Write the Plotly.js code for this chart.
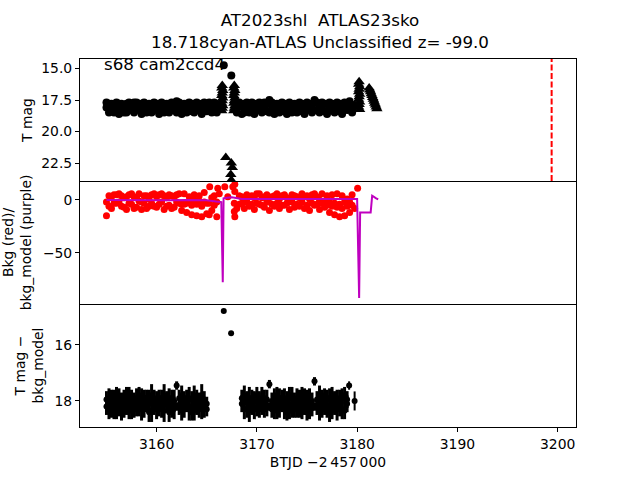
<!DOCTYPE html>
<html>
<head>
<meta charset="utf-8">
<script src="https://cdn.plot.ly/plotly-3.0.1.min.js"></script>
<style>html,body{margin:0;padding:0;background:#fff;}#plot{width:640px;height:480px;}</style>
</head>
<body>
<div id="plot"></div>
<script>
// ---- data ----
const tA = [3155.0,3155.25,3155.5,3155.75,3156.0,3156.25,3156.5,3156.75,3157.0,3157.25,3157.5,3157.75,3158.0,3158.25,3158.5,3158.75,3159.0,3159.25,3159.5,3159.75,3160.0,3160.25,3160.5,3160.75,3161.0,3161.25,3161.5,3161.75,3162.0,3162.25,3162.5,3162.75,3163.0,3163.25,3163.5,3163.75,3164.0,3164.25,3164.5,3164.75,3165.0];
const tB = [3168.5,3168.75,3169.0,3169.25,3169.5,3169.75,3170.0,3170.25,3170.5,3170.75,3171.0,3171.25,3171.5,3171.75,3172.0,3172.25,3172.5,3172.75,3173.0,3173.25,3173.5,3173.75,3174.0,3174.25,3174.5,3174.75,3175.0,3175.25,3175.5,3175.75,3176.0,3176.25,3176.5,3176.75,3177.0,3177.25,3177.5,3177.75,3178.0,3178.25,3178.5,3178.75,3179.0];

// panel 1: T mag detections (circles), two exposures per time
const magA = [18.1,17.8,18.3,17.9,18.2,17.8,18.3,18.0,17.8,18.2,18.3,17.7,18.1,18.3,17.8,18.2,17.9,18.3,17.8,18.1,18.3,17.8,18.2,17.9,18.3,17.8,18.0,18.3,17.6,18.2,17.9,18.3,17.8,18.1,18.4,17.8,18.2,18.3,17.8,18.1,18.4];
const magA2 = [17.7,18.5,17.8,18.5,17.7,18.6,17.8,18.5,18.5,17.7,17.8,18.5,17.7,17.8,18.6,17.7,18.5,17.8,18.5,17.7,17.8,18.6,17.7,18.5,17.8,18.5,17.7,17.8,18.5,17.7,18.6,17.8,18.5,17.7,17.8,18.5,17.7,17.8,18.6,17.7,17.8];
const magB = [18.0,17.8,18.3,17.9,18.2,17.8,18.3,18.1,17.8,18.2,18.4,17.5,18.2,17.9,18.3,17.8,18.1,18.4,17.8,18.2,17.9,18.3,17.8,18.2,18.4,17.9,18.1,18.3,17.8,17.5,18.3,17.9,18.2,18.4,17.8,18.1,18.3,17.9,18.2,18.4,17.8,18.1,18.3];
const magB2 = [18.6,18.5,17.7,18.5,17.7,18.6,17.8,17.7,18.5,17.7,17.8,18.5,17.7,18.6,17.8,18.5,17.7,17.8,18.6,17.7,18.5,17.8,18.5,17.7,17.8,18.6,17.7,17.8,18.5,18.3,17.7,18.5,17.7,17.8,18.6,17.7,17.8,18.5,17.7,17.8,18.6,17.7,17.8];
const tC = [3165.25,3165.5,3165.75,3166.0,3166.25,3166.7,3167.45,3168.0,3168.25,3179.25,3179.5,3179.75,3165.25,3165.5,3165.75,3166.0,3168.0,3168.25,3179.5];
const magC = [18.2,17.9,18.3,17.8,18.1,14.75,15.55,18.2,17.9,17.6,18.2,17.9,17.7,18.5,17.7,18.5,18.5,17.7,18.5];
// panel 1: upper limits (triangles)
const tU = [3166.55,3166.5,3166.6,3166.55,3166.5,3166.6,3166.55,3166.5,3166.6,3166.55,3166.5,
            3167.75,3167.7,3167.8,3167.75,3167.7,3167.8,3167.75,3167.7,3167.8,3167.75,3167.7,
            3166.9,3167.45,3167.55,3167.4,3167.45,
            3180.2,3180.15,3180.25,3180.2,3180.15,3180.25,3180.2,3180.15,3180.25,3180.2,3180.15,3180.25,
            3181.2,3181.27,3181.34,3181.41,3181.48,3181.55,3181.62,3181.69,3181.76,3181.83,3181.9,3181.97];
const magU = [16.35,16.55,16.75,16.95,17.15,17.35,17.55,17.75,17.95,18.15,18.35,
              16.35,16.55,16.75,16.95,17.15,17.35,17.55,17.75,17.95,18.15,18.35,
              22.05,22.5,22.85,23.4,23.85,
              16.05,16.25,16.45,16.65,16.85,17.05,17.25,17.45,17.65,17.85,18.05,18.25,
              16.55,16.7,16.85,17.0,17.15,17.3,17.45,17.6,17.75,17.9,18.05,18.2];
const tAlert = [3199.4];

// panel 2: background (red) and background model (purple)
const bkgA = [-15,4,-8,5,-3,6,-6,2,-9,5,-4,3,-7,6,-2,4,-8,1,5,-6,3,-4,6,-9,2,-5,4,-7,5,-3,-10,6,-12,3,-14,5,-15,4,-16,7,-13];
const bkgA2 = [-2,-6,3,-3,5,-2,4,-7,3,-3,6,-8,2,-1,-9,-3,4,-6,-3,6,-7,5,-2,4,-6,5,-8,3,-2,6,-4,-4,-3,-2,-5,0,-4,-1,-6,-2,-3];
const bkgB = [3,-8,5,-6,4,-9,6,-4,2,-7,5,-10,3,-6,6,-8,4,-5,2,-9,5,-7,3,-6,6,-8,4,-10,5,-5,3,-9,6,-7,4,-12,5,-14,6,-16,4,-15,1];
const bkgB2 = [-3,1,-2,3,-4,2,-3,6,-5,3,-2,2,-4,4,-3,1,-5,5,-3,0,-2,4,-4,2,-2,3,-5,1,-3,6,-4,0,-3,-1,-5,-2,-6,-3,-7,-4,-8,-2,-6];
const tR = [3165.25,3165.3,3165.5,3165.75,3166.0,3166.1,3166.25,3166.8,3167.1,3167.6,3167.8,3167.8,3167.75,3167.75,3167.8,3168.0,3168.25,3179.25,3179.5,3179.75,3180.05,3165.25,3165.5,3165.75,3166.0,3168.25,3179.25,3179.5];
const bkgR = [-14,12.5,-10,4,-16,11,6,12.5,3,12.5,15,8,-3,-11,-16,-8,4,-12,5,-8,11,-3,2,-5,-2,-4,-2,-5];
const tM = [3155.0,3157.0,3159.0,3161.0,3163.0,3165.0,3165.95,3166.45,3166.6,3166.68,3167.0,3167.5,3168.5,3170.0,3172.0,3174.0,3176.0,3178.0,3180.0,3180.2,3180.3,3181.35,3181.5,3181.9,3182.1];
const bkgM = [0,-0.3,0,-0.2,0,-0.3,-1.5,-2,-78,1.5,2,2.5,1,1,0.8,1,0.7,1,0.8,-93,-12,-12,4,1.5,0.5];

// panel 3: T mag - bkg_model with errors, two exposures per time
const diffA = [18.2,17.9,18.3,18.0,17.8,18.2,18.4,17.9,18.1,17.8,18.3,18.0,18.2,17.8,18.3,17.9,18.1,18.4,17.8,18.2,18.0,17.9,18.3,17.8,18.1,18.4,17.9,18.0,17.45,18.2,17.8,18.3,18.1,17.9,18.4,17.8,18.2,18.0,17.8,18.3,18.1];
const diffA2 = [17.95,18.3,17.9,18.25,18.35,17.9,18.0,18.3,17.9,18.35,17.95,18.3,17.9,18.25,17.95,18.3,17.9,17.95,18.35,17.9,18.3,18.25,17.9,18.35,17.95,17.9,18.3,18.25,18.2,17.9,18.35,17.95,17.9,18.3,17.95,18.35,17.9,18.3,18.25,17.95,18.3];
const errA = [0.3,0.35,0.3,0.4,0.3,0.35,0.3,0.3,0.4,0.3,0.35,0.3,0.35,0.3,0.4,0.3,0.3,0.35,0.4,0.3,0.35,0.3,0.3,0.4,0.3,0.35,0.3,0.4,0.15,0.3,0.35,0.3,0.3,0.4,0.3,0.35,0.3,0.3,0.4,0.3,0.25];
const diffB = [18.1,17.8,18.3,17.9,18.2,18.0,17.8,18.3,18.1,17.9,18.2,17.4,18.0,18.3,17.8,18.2,18.1,17.9,18.4,17.8,18.2,18.0,17.9,18.3,17.8,18.1,18.4,17.9,18.0,17.3,18.2,17.8,18.3,18.1,17.9,18.4,17.8,18.2,18.0,17.9,18.3,17.8,18.1];
const diffB2 = [17.9,18.3,17.95,18.35,17.9,18.3,18.25,17.95,17.9,18.3,17.95,18.2,18.3,17.9,18.35,17.95,17.9,18.3,17.95,18.35,17.9,18.3,18.25,17.9,18.35,17.95,17.9,18.3,18.25,18.2,17.95,18.35,17.9,17.95,18.3,17.9,18.35,17.95,18.3,18.25,17.9,18.35,17.95];
const errB = [0.3,0.35,0.3,0.4,0.3,0.35,0.3,0.3,0.4,0.3,0.35,0.15,0.3,0.35,0.3,0.4,0.3,0.35,0.3,0.3,0.4,0.3,0.35,0.3,0.3,0.4,0.3,0.35,0.3,0.15,0.3,0.35,0.3,0.4,0.3,0.35,0.3,0.3,0.4,0.3,0.35,0.3,0.3];
const tD = [3166.7,3167.43,3179.2,3179.75];
const diffD = [14.79,15.58,17.45,18.0];
const errD = [0.05,0.05,0.15,0.34];

// tick labels
const xTicks = [3160,3170,3180,3190,3200];
const y1Ticks = [15.0,17.5,20.0,22.5];
const y1Text = ['15.0','17.5','20.0','22.5'];
const y2Ticks = [0,-50];
const y3Ticks = [16,18];

// ---- figure ----
const FONT = 'DejaVu Sans, Liberation Sans, sans-serif';
const black = '#000000', red = '#ff0000', purple = '#bf00bf';

const traces = [
  {x: tA.concat(tA, tB, tB, tC), y: magA.concat(magA2, magB, magB2, magC), xaxis: 'x3', yaxis: 'y', type: 'scatter', mode: 'markers',
   marker: {symbol: 'circle', size: 8, color: black}},
  {x: tU, y: magU, xaxis: 'x3', yaxis: 'y', type: 'scatter', mode: 'markers',
   marker: {symbol: 'triangle-up', size: 10, color: black}},
  {x: tA.concat(tA, tB, tB, tR), y: bkgA.concat(bkgA2, bkgB, bkgB2, bkgR), xaxis: 'x2', yaxis: 'y2', type: 'scatter', mode: 'markers',
   marker: {symbol: 'circle', size: 7, color: red}},
  {x: tM, y: bkgM, xaxis: 'x2', yaxis: 'y2', type: 'scatter', mode: 'lines',
   line: {color: purple, width: 2}},
  {x: tA.concat(tA, tB, tB), y: diffA.concat(diffA2, diffB, diffB2), xaxis: 'x', yaxis: 'y3', type: 'scatter', mode: 'markers',
   marker: {symbol: 'circle', size: 6, color: black},
   error_y: {type: 'data', array: errA.concat(errA, errB, errB), visible: true, color: black, thickness: 3, width: 0}},
  {x: tD, y: diffD, xaxis: 'x', yaxis: 'y3', type: 'scatter', mode: 'markers',
   marker: {symbol: 'circle', size: 6, color: black},
   error_y: {type: 'data', array: errD, visible: true, color: black, thickness: 2, width: 0}}
];

const xRange = [3152.36, 3201.83];
const axBase = {showgrid: false, zeroline: false, showline: true, mirror: true, linecolor: black, linewidth: 1,
                ticks: 'outside', ticklen: 4, tickwidth: 1, tickcolor: black,
                tickfont: {family: FONT, size: 13.9, color: black}};
const yTitleFont = {family: FONT, size: 13.9, color: black};

const layout = {
  width: 640, height: 480,
  margin: {l: 80, r: 64, t: 59, b: 53},
  paper_bgcolor: '#fff', plot_bgcolor: '#fff',
  showlegend: false,
  font: {family: FONT, color: black},
  title: {text: 'AT2023shl\u00A0\u00A0ATLAS23sko<br>18.718cyan-ATLAS Unclassified z= -99.0',
          font: {family: FONT, size: 16.7, color: black},
          x: 0.5, xref: 'container', xanchor: 'center', y: 0.945, yref: 'container', yanchor: 'top'},
  xaxis: Object.assign({}, axBase, {domain: [0, 1], anchor: 'y3', range: xRange, tickvals: xTicks, mirror: false,
          title: {text: 'BTJD \u22122\u2009457\u2009000', font: {family: FONT, size: 13.9, color: black}, standoff: 6}}),
  xaxis2: Object.assign({}, axBase, {domain: [0, 1], anchor: 'y2', matches: 'x', range: xRange, showticklabels: false, ticks: '', mirror: false}),
  xaxis3: Object.assign({}, axBase, {domain: [0, 1], anchor: 'y', matches: 'x', range: xRange, showticklabels: false, ticks: ''}),
  yaxis: Object.assign({}, axBase, {domain: [0.6685, 1], anchor: 'x3', range: [23.92, 14.25],
          tickvals: y1Ticks, ticktext: y1Text,
          title: {text: 'T mag', font: yTitleFont, standoff: 5}}),
  yaxis2: Object.assign({}, axBase, {domain: [0.3342, 0.6685], anchor: 'x2', range: [-98.7, 18],
          tickvals: y2Ticks,
          title: {text: 'Bkg (red)/<br>bkg_model (purple)', font: yTitleFont, standoff: 11}}),
  yaxis3: Object.assign({}, axBase, {domain: [0, 0.3342], anchor: 'x', range: [18.93, 14.54],
          tickvals: y3Ticks,
          title: {text: 'T mag \u2212<br>bkg_model', font: yTitleFont, standoff: 7}}),
  shapes: [
    {type: 'line', xref: 'x3', yref: 'y domain', x0: tAlert[0], x1: tAlert[0], y0: 0, y1: 1,
     line: {color: red, width: 2, dash: '6px,2.5px'}}
  ],
  annotations: [
    {text: 's68 cam2ccd4', xref: 'x3 domain', yref: 'y domain', x: 0.045, y: 0.955,
     xanchor: 'left', yanchor: 'middle', showarrow: false,
     font: {family: FONT, size: 16.7, color: black}}
  ]
};

Plotly.newPlot('plot', traces, layout, {displayModeBar: false, staticPlot: true});
</script>
</body>
</html>
